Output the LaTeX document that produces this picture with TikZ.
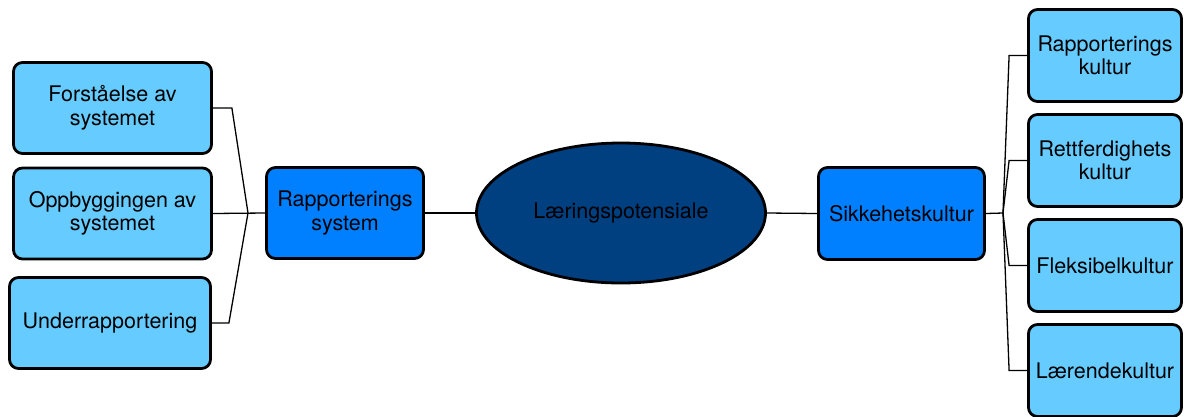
\documentclass[tikz,border=0pt]{standalone}
\usepackage{fontspec}
\setmainfont{TeX Gyre Heros}
\usetikzlibrary{shapes.geometric,calc}
\definecolor{leafblue}{HTML}{66CCFF}
\definecolor{midblue}{HTML}{0080FF}
\definecolor{coreblue}{HTML}{003F80}
\tikzset{
  box/.style={draw=black, line width=2.8pt, rounded corners=9pt, align=center,
    inner sep=2pt, font=\fontsize{21.5}{23.5}\selectfont},
  leaf/.style={box, fill=leafblue},
  hub/.style={box, fill=midblue},
  core/.style={ellipse, draw=black, line width=2.8pt, fill=coreblue, inner sep=0pt,
    font=\fontsize{21.5}{23.5}\selectfont},
  link/.style={draw=black, line width=1.3pt, line join=miter}
}
\begin{document}
\begin{tikzpicture}[x=1pt,y=-1pt]
\useasboundingbox (0,0) rectangle (1184,416);
% central idea
\node[core, minimum width=289pt, minimum height=140pt] (core) at (621,213) {Læringspotensiale};
% left branch
\node[hub, minimum width=157pt, minimum height=91pt] (rs) at (345,213) {Rapporterings\\system};
\node[leaf, minimum width=198pt, minimum height=91pt] (l1) at (112.5,108) {Forståelse av\\systemet};
\node[leaf, minimum width=198pt, minimum height=91pt] (l2) at (112.5,213.5) {Oppbyggingen av\\systemet};
\node[leaf, minimum width=201pt, minimum height=91pt] (l3) at (110,323) {Underrapportering};
% right branch
\node[hub, minimum width=166pt, minimum height=92pt] (sk) at (901.5,213.5) {Sikkehetskultur};
\node[leaf, minimum width=153pt, minimum height=92pt] (r1) at (1105,55.5) {Rapporterings\\kultur};
\node[leaf, minimum width=153pt, minimum height=92pt] (r2) at (1105,160.5) {Rettferdighets\\kultur};
\node[leaf, minimum width=153pt, minimum height=92pt] (r3) at (1105,265.5) {Fleksibelkultur};
\node[leaf, minimum width=153pt, minimum height=92pt] (r4) at (1105,370.5) {Lærendekultur};
% junction points
\coordinate (jl) at (248,213);
\coordinate (jr) at (1003,213);
% connectors
\draw[link] (rs.east) -- (core.west);
\draw[link] (core.east) -- (sk.west);
\draw[link] (l2.east) -- (rs.west);
\draw[link] (l1.east) -- ++(19,0) -- (jl);
\draw[link] (l3.east) -- ++(17,0) -- (jl);
\draw[link] (sk.east) -- (jr);
\foreach \r in {r1,r2,r3,r4}
  \draw[link] (jr) -- ($(\r.west)+(-18,0)$) -- (\r.west);
\end{tikzpicture}
\end{document}
